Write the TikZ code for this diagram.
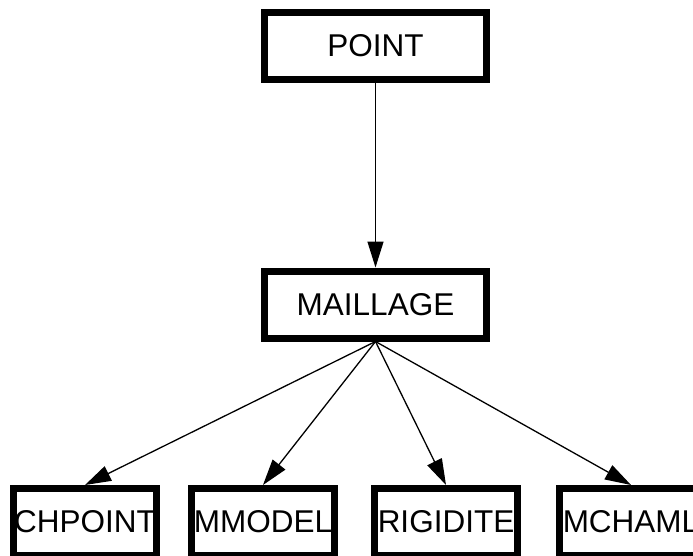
\documentclass[tikz,border=0pt]{standalone}
\usepackage{fontspec}
\setmainfont{Liberation Sans}
\usetikzlibrary{arrows.meta}
\begin{document}
\begin{tikzpicture}[x=1pt,y=-1pt,
  classbox/.style={draw=black, line width=7pt, fill=white, inner sep=0pt,
    font=\fontsize{31.5}{36}\selectfont, text=black},
  wide/.style={classbox, minimum width=222pt, minimum height=67pt},
  narrow/.style={classbox, minimum width=143pt, minimum height=67pt},
  link/.style={line width=1.3pt, -{Triangle[length=26pt,width=16pt]}}]
  \useasboundingbox (0,0) rectangle (693,556);
  \fill[white] (0,0) rectangle (693,556);
  % boxes
  \node[wide] (point) at (375.5,46) {POINT};
  \node[wide] (maillage) at (375.5,304.5) {MAILLAGE};
  \node[narrow] (chpoint) at (85,522) {CHPOINT};
  \node[narrow] (mmodel) at (263,522) {MMODEL};
  \node[narrow] (rigidite) at (446,522) {RIGIDITE};
  \node[narrow] (mchaml) at (631,522) {MCHAML};
  % dependencies
  \draw[link] (point.south) -- (maillage.north);
  \draw[link] (maillage.south) -- (chpoint.north);
  \draw[link] (maillage.south) -- (mmodel.north);
  \draw[link] (maillage.south) -- (rigidite.north);
  \draw[link] (maillage.south) -- (mchaml.north);
\end{tikzpicture}
\end{document}
